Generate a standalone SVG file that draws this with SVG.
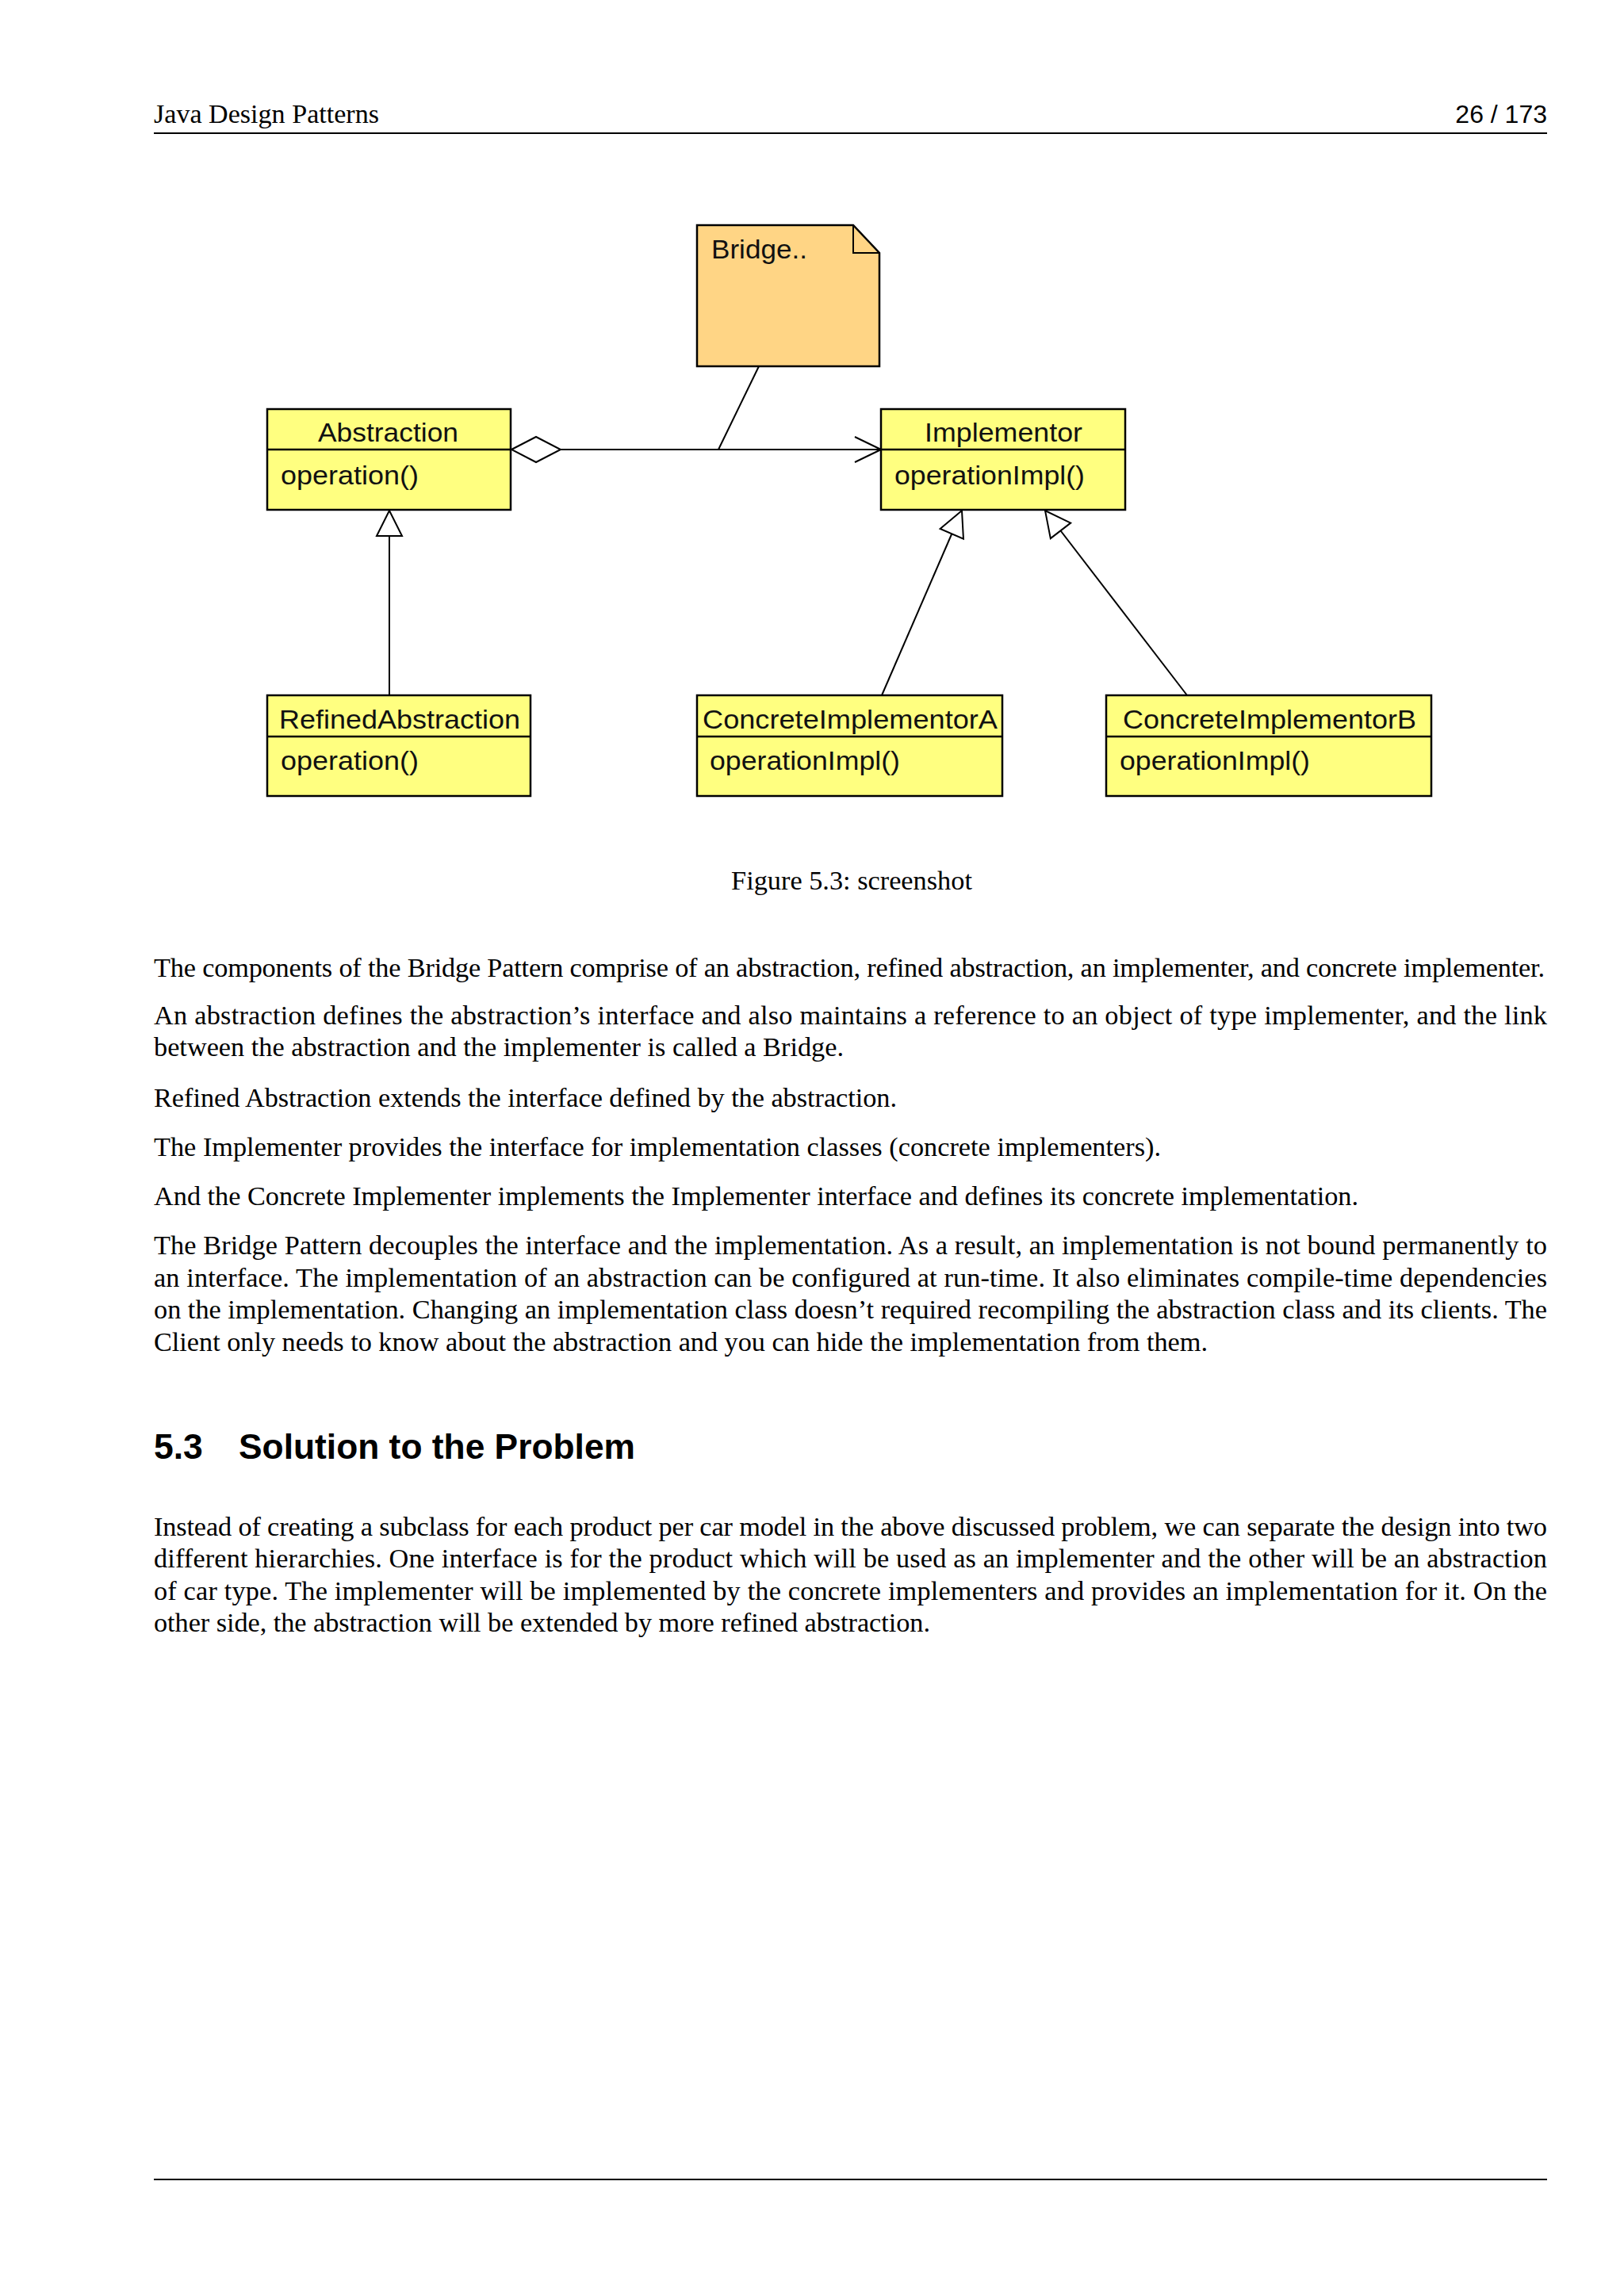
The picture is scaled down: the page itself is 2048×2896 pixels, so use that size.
<svg xmlns="http://www.w3.org/2000/svg" width="2048" height="2896" viewBox="0 0 2048 2896">
<style>
.pg{fill:#ffffff}
.rule{stroke:#000;stroke-width:2}
.body{font-family:"Liberation Serif","Times New Roman",serif;font-size:34.3px;fill:#000}
.sans{font-family:"Liberation Sans",Arial,sans-serif;fill:#000}
.cls{fill:#ffff80;stroke:#000;stroke-width:2.5}
.note{fill:#ffd585;stroke:#000;stroke-width:2.5}
.div{stroke:#000;stroke-width:2.5}
.ct{font-family:"Liberation Sans",Arial,sans-serif;font-size:33px;fill:#111}
.ln{stroke:#000;stroke-width:2;fill:none}
</style>
<defs>
<marker id="tri" markerUnits="userSpaceOnUse" viewBox="0 0 36 36" refX="34" refY="18" markerWidth="36" markerHeight="36" orient="auto">
<path d="M2,2 L34,18 L2,34 Z" fill="#fff" stroke="#000" stroke-width="2"/>
</marker>
<marker id="dia" markerUnits="userSpaceOnUse" viewBox="0 0 66 36" refX="1" refY="18" markerWidth="66" markerHeight="36" orient="auto">
<path d="M1,18 L32,2 L63,18 L32,34 Z" fill="#fff" stroke="#000" stroke-width="2"/>
</marker>
<marker id="open" markerUnits="userSpaceOnUse" viewBox="0 0 36 36" refX="34" refY="18" markerWidth="36" markerHeight="36" orient="auto">
<path d="M1,2 L34,18 L1,34" fill="none" stroke="#000" stroke-width="2"/>
</marker>
</defs>
<rect class="pg" x="0" y="0" width="2048" height="2896"/>

<g id="header">
<text class="body" x="194" y="155" textLength="284" lengthAdjust="spacingAndGlyphs">Java Design Patterns</text>
<text class="sans" x="1951" y="155" font-size="32" text-anchor="end">26 / 173</text>
<line class="rule" x1="194" y1="168" x2="1951" y2="168"/>
</g>

<g id="connectors">
<line class="ln" x1="645" y1="567" x2="1111" y2="567" marker-start="url(#dia)" marker-end="url(#open)"/>
<line class="ln" x1="957" y1="462" x2="906" y2="567"/>
<line class="ln" x1="491" y1="877" x2="491" y2="644" marker-end="url(#tri)"/>
<line class="ln" x1="1112" y1="877" x2="1213" y2="644" marker-end="url(#tri)"/>
<line class="ln" x1="1497" y1="877" x2="1318" y2="644" marker-end="url(#tri)"/>
</g>

<g id="note-bridge">
<path class="note" d="M879,284 L1076,284 L1109,319 L1109,462 L879,462 Z"/>
<path class="ln" d="M1076,284 L1076,319 L1109,319" stroke-width="2.5"/>
<text class="ct" x="897" y="326" textLength="121" lengthAdjust="spacingAndGlyphs">Bridge..</text>
</g>

<g id="class-abstraction">
<rect class="cls" x="337" y="516" width="307" height="127"/>
<line class="div" x1="337" y1="567" x2="644" y2="567"/>
<text class="ct" x="401" y="557" textLength="177" lengthAdjust="spacingAndGlyphs">Abstraction</text>
<text class="ct" x="354" y="611" textLength="174" lengthAdjust="spacingAndGlyphs">operation()</text>
</g>

<g id="class-implementor">
<rect class="cls" x="1111" y="516" width="308" height="127"/>
<line class="div" x1="1111" y1="567" x2="1419" y2="567"/>
<text class="ct" x="1166" y="557" textLength="199" lengthAdjust="spacingAndGlyphs">Implementor</text>
<text class="ct" x="1128" y="611" textLength="240" lengthAdjust="spacingAndGlyphs">operationImpl()</text>
</g>

<g id="class-refinedabstraction">
<rect class="cls" x="337" y="877" width="332" height="127"/>
<line class="div" x1="337" y1="929" x2="669" y2="929"/>
<text class="ct" x="352" y="919" textLength="304" lengthAdjust="spacingAndGlyphs">RefinedAbstraction</text>
<text class="ct" x="354" y="971" textLength="174" lengthAdjust="spacingAndGlyphs">operation()</text>
</g>

<g id="class-concreteimplementora">
<rect class="cls" x="879" y="877" width="385" height="127"/>
<line class="div" x1="879" y1="929" x2="1264" y2="929"/>
<text class="ct" x="886" y="919" textLength="372" lengthAdjust="spacingAndGlyphs">ConcreteImplementorA</text>
<text class="ct" x="895" y="971" textLength="240" lengthAdjust="spacingAndGlyphs">operationImpl()</text>
</g>

<g id="class-concreteimplementorb">
<rect class="cls" x="1395" y="877" width="410" height="127"/>
<line class="div" x1="1395" y1="929" x2="1805" y2="929"/>
<text class="ct" x="1416" y="919" textLength="370" lengthAdjust="spacingAndGlyphs">ConcreteImplementorB</text>
<text class="ct" x="1412" y="971" textLength="240" lengthAdjust="spacingAndGlyphs">operationImpl()</text>
</g>

<g id="text">
<text class="body" x="1074" y="1122" text-anchor="middle">Figure 5.3: screenshot</text>
<text class="body" x="194" y="1232" textLength="1754" lengthAdjust="spacing">The components of the Bridge Pattern comprise of an abstraction, refined abstraction, an implementer, and concrete implementer.</text>
<text class="body" x="194" y="1292" textLength="1757" lengthAdjust="spacing">An abstraction defines the abstraction’s interface and also maintains a reference to an object of type implementer, and the link</text>
<text class="body" x="194" y="1332" textLength="870" lengthAdjust="spacing">between the abstraction and the implementer is called a Bridge.</text>
<text class="body" x="194" y="1396" textLength="937" lengthAdjust="spacing">Refined Abstraction extends the interface defined by the abstraction.</text>
<text class="body" x="194" y="1458" textLength="1270" lengthAdjust="spacing">The Implementer provides the interface for implementation classes (concrete implementers).</text>
<text class="body" x="194" y="1520" textLength="1519" lengthAdjust="spacing">And the Concrete Implementer implements the Implementer interface and defines its concrete implementation.</text>
<text class="body" x="194" y="1582" textLength="1757" lengthAdjust="spacing">The Bridge Pattern decouples the interface and the implementation. As a result, an implementation is not bound permanently to</text>
<text class="body" x="194" y="1623" textLength="1757" lengthAdjust="spacing">an interface. The implementation of an abstraction can be configured at run-time. It also eliminates compile-time dependencies</text>
<text class="body" x="194" y="1663" textLength="1757" lengthAdjust="spacing">on the implementation. Changing an implementation class doesn’t required recompiling the abstraction class and its clients. The</text>
<text class="body" x="194" y="1704" textLength="1329" lengthAdjust="spacing">Client only needs to know about the abstraction and you can hide the implementation from them.</text>
<text class="sans" x="194" y="1840" font-size="44.5" font-weight="bold">5.3</text>
<text class="sans" x="301" y="1840" font-size="44.5" font-weight="bold" textLength="500" lengthAdjust="spacingAndGlyphs">Solution to the Problem</text>
<text class="body" x="194" y="1937" textLength="1757" lengthAdjust="spacing">Instead of creating a subclass for each product per car model in the above discussed problem, we can separate the design into two</text>
<text class="body" x="194" y="1977" textLength="1757" lengthAdjust="spacing">different hierarchies. One interface is for the product which will be used as an implementer and the other will be an abstraction</text>
<text class="body" x="194" y="2018" textLength="1757" lengthAdjust="spacing">of car type. The implementer will be implemented by the concrete implementers and provides an implementation for it. On the</text>
<text class="body" x="194" y="2058" textLength="979" lengthAdjust="spacing">other side, the abstraction will be extended by more refined abstraction.</text>
</g>

<g id="footer">
<line class="rule" x1="194" y1="2749" x2="1951" y2="2749"/>
</g>
</svg>
